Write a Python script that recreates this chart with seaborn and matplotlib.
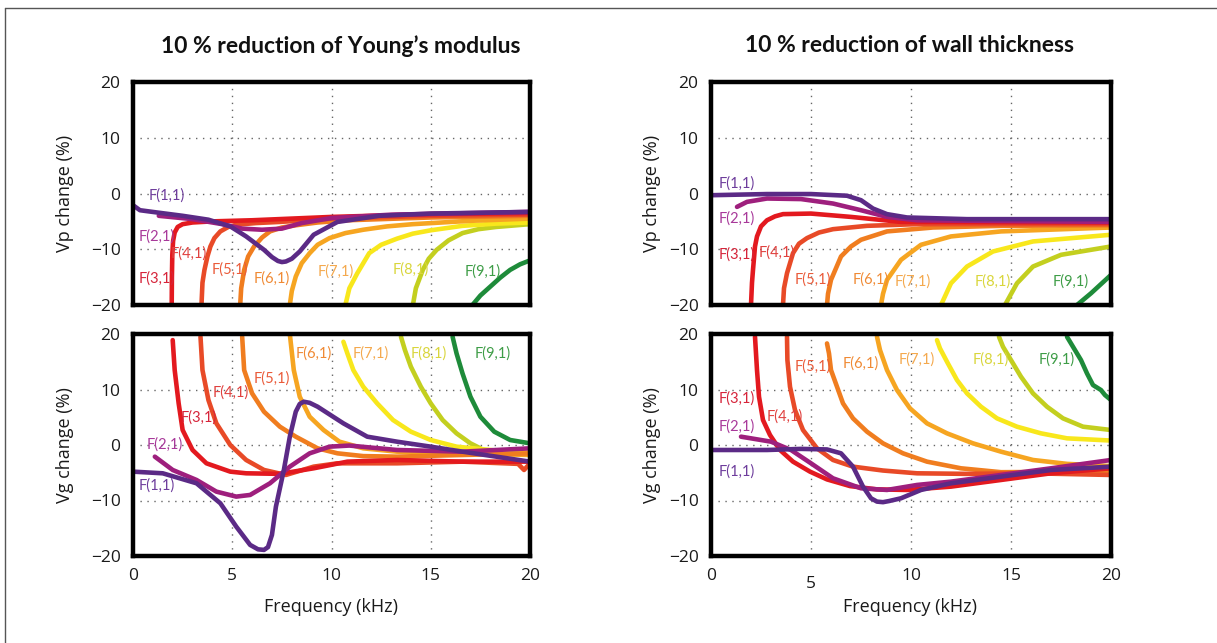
import matplotlib
matplotlib.use("Agg")
import matplotlib.pyplot as plt
import matplotlib.transforms as mtransforms
from matplotlib.lines import Line2D
import seaborn as sns

# ---------------- data ----------------
MODES = ["F(1,1)", "F(2,1)", "F(3,1)", "F(4,1)", "F(5,1)", "F(6,1)", "F(7,1)", "F(8,1)", "F(9,1)"]
FREQ_TICKS = [0, 5, 10, 15, 20]
CHANGE_TICKS = [-20, -10, 0, 10, 20]
TITLES = ["10 % reduction of Young\u2019s modulus", "10 % reduction of wall thickness"]
YLABELS = ["Vp change (%)", "Vg change (%)"]
XLABEL = "Frequency (kHz)"

# Young's modulus, phase velocity change
ym_vp_x1 = [0, 0.35, 1.2, 2.5, 3.8, 4.9, 5.7, 6.6, 7.0, 7.3, 7.5, 7.7, 8.0, 8.4, 9.1, 10.3, 12.4, 15, 20]
ym_vp_y1 = [-2.1, -3.0, -3.4, -4.0, -4.7, -5.9, -7.7, -10.1, -11.4, -12.1, -12.3, -12.2, -11.7, -10.4, -7.4, -5.1, -4.0, -3.6, -3.3]
ym_vp_x2 = [1.3, 3.0, 4.5, 5.5, 6.5, 7.5, 8.5, 10, 13, 20]
ym_vp_y2 = [-4.0, -4.6, -5.5, -6.3, -6.5, -6.3, -5.3, -4.4, -3.8, -3.3]
ym_vp_x3 = [1.95, 1.96, 1.98, 2.02, 2.1, 2.25, 2.5, 3.0, 4.0, 6.0, 10, 15, 20]
ym_vp_y3 = [-20, -15, -11, -8.5, -7.0, -6.0, -5.5, -5.2, -5.0, -4.8, -4.2, -3.7, -3.5]
ym_vp_x4 = [3.45, 3.5, 3.6, 3.75, 3.9, 4.1, 4.4, 4.8, 5.2, 6.2, 7.4, 10, 15, 20]
ym_vp_y4 = [-20, -16, -13.7, -11.3, -9.5, -8.0, -6.8, -6.0, -5.6, -5.3, -5.1, -4.5, -4.0, -3.8]
ym_vp_x5 = [5.4, 5.45, 5.6, 5.8, 6.1, 6.5, 6.9, 7.5, 8.2, 9.3, 10.8, 15, 20]
ym_vp_y5 = [-20, -17, -13.7, -11.3, -9.5, -7.9, -6.8, -6.1, -5.7, -5.2, -4.8, -4.3, -4.0]
ym_vp_x6 = [7.9, 8.0, 8.2, 8.5, 8.9, 9.3, 9.9, 10.7, 11.6, 12.8, 14.1, 17, 20]
ym_vp_y6 = [-20, -17.5, -14.9, -12.5, -10.7, -9.2, -8.0, -7.1, -6.5, -5.9, -5.5, -4.9, -4.5]
ym_vp_x7 = [10.7, 10.9, 11.3, 11.9, 12.5, 13.3, 14.1, 15, 16.6, 18.3, 20]
ym_vp_y7 = [-20, -17, -14.3, -10.7, -9.2, -8.1, -7.2, -6.6, -5.8, -5.4, -5.2]
ym_vp_x8 = [14.1, 14.25, 14.6, 14.9, 15.3, 15.9, 16.6, 17.4, 18.3, 20]
ym_vp_y8 = [-20, -17, -13.7, -11.7, -10.1, -8.4, -7.1, -6.4, -6.0, -5.5]
ym_vp_x9 = [17.1, 17.5, 18.0, 18.5, 19.0, 19.5, 20]
ym_vp_y9 = [-20, -18.3, -16.7, -15.1, -13.7, -12.7, -12.0]

# Young's modulus, group velocity change
ym_vg_x1 = [0, 1.5, 3.2, 4.4, 5.2, 5.9, 6.3, 6.6, 6.8, 7.0, 7.2, 7.6, 7.9, 8.2, 8.4, 8.6, 8.9, 9.3, 10.6, 11.8, 13.3, 15, 16.6, 18.3, 20]
ym_vg_y1 = [-4.8, -5.1, -6.9, -10.5, -14.7, -18.0, -18.8, -18.9, -18.4, -16.2, -11.1, -4.5, 1.5, 6.0, 7.4, 7.8, 7.6, 6.9, 3.9, 1.5, 0.6, -0.3, -1.2, -2.1, -3.0]
ym_vg_x2 = [1.1, 2.0, 3.2, 4.2, 5.2, 5.9, 6.9, 7.9, 8.9, 9.9, 10.9, 13.3, 16.6, 20]
ym_vg_y2 = [-2.1, -4.5, -6.3, -8.4, -9.3, -9.0, -6.9, -3.9, -1.5, -0.3, -0.1, -0.9, -1.2, -0.6]
ym_vg_x3 = [2.0, 2.1, 2.3, 2.5, 3.0, 3.7, 4.9, 5.7, 7.4, 9.1, 10.8, 13.3, 16.6, 20]
ym_vg_y3 = [18.9, 13.5, 7.5, 2.7, -0.9, -3.3, -4.8, -5.1, -5.2, -4.2, -3.0, -2.7, -3.0, -3.0]
ym_vg_x4 = [3.4, 3.5, 3.8, 4.2, 4.9, 5.7, 6.6, 7.7, 9.1, 10.3, 13.3, 16.6, 19.4, 19.7, 20]
ym_vg_y4 = [19.5, 13.5, 8.1, 3.9, 0.0, -2.7, -4.5, -5.4, -3.9, -3.3, -3.3, -3.0, -3.4, -4.5, -3.3]
ym_vg_x5 = [5.5, 5.6, 6.0, 6.6, 7.4, 8.2, 9.3, 10.3, 11.6, 13.3, 16.6, 20]
ym_vg_y5 = [19.5, 13.5, 9.3, 6.0, 3.3, 1.5, -0.6, -1.5, -2.0, -2.1, -1.8, -1.5]
ym_vg_x6 = [7.9, 8.1, 8.4, 8.9, 9.6, 10.4, 11.6, 13.3, 16.6, 20]
ym_vg_y6 = [20, 13.5, 8.7, 5.1, 2.7, 0.6, -0.6, -1.2, -1.5, -1.8]
ym_vg_x7 = [10.6, 10.8, 11.1, 11.6, 12.3, 13.1, 14.0, 15.0, 16.3, 18.3, 20]
ym_vg_y7 = [18.6, 16.5, 13.5, 10.5, 7.5, 4.5, 2.4, 0.9, -0.3, -1.0, -1.4]
ym_vg_x8 = [13.5, 13.7, 14.0, 14.5, 15.0, 15.6, 16.3, 17.0, 17.5, 17.6]
ym_vg_y8 = [19.5, 17.1, 14.1, 10.5, 7.5, 4.5, 2.1, 0.3, -0.6, -0.9]
ym_vg_x9 = [16.1, 16.3, 16.6, 17.0, 17.5, 18.2, 19.0, 20]
ym_vg_y9 = [19.5, 16.5, 12.9, 8.7, 5.1, 2.4, 0.9, 0.3]

# Wall thickness, phase velocity change
wt_vp_x1 = [0.1, 2.8, 5, 6.8, 7.5, 8.1, 8.8, 9.8, 12.8, 16.1, 20]
wt_vp_y1 = [-0.3, -0.1, -0.1, -0.4, -1.2, -2.7, -3.7, -4.3, -4.6, -4.6, -4.6]
wt_vp_x2 = [1.3, 1.8, 2.8, 4.5, 6.1, 7.5, 8.8, 10.3, 20]
wt_vp_y2 = [-2.4, -1.5, -0.9, -1.0, -1.8, -3.0, -4.2, -4.8, -5.1]
wt_vp_x3 = [2.0, 2.05, 2.1, 2.2, 2.3, 2.5, 2.8, 3.2, 3.6, 5, 7, 9.5, 20]
wt_vp_y3 = [-20, -16, -13.7, -9.5, -7.7, -5.9, -4.8, -4.1, -3.7, -3.6, -4.2, -5.1, -5.2]
wt_vp_x4 = [3.6, 3.65, 3.8, 4.1, 4.4, 4.8, 5.4, 6.1, 7.8, 10.3, 20]
wt_vp_y4 = [-20, -17, -14.3, -10.7, -9.0, -8.0, -7.0, -6.4, -5.8, -5.5, -5.5]
wt_vp_x5 = [5.8, 5.85, 6, 6.5, 7.0, 7.5, 8.8, 11.1, 14.5, 20]
wt_vp_y5 = [-20, -18, -15.5, -11.3, -9.5, -8.3, -6.8, -6.1, -5.8, -5.7]
wt_vp_x6 = [8.5, 8.6, 8.8, 9.5, 10.5, 12, 14.5, 20]
wt_vp_y6 = [-20, -18, -15.5, -11.9, -9.2, -7.7, -6.8, -6.1]
wt_vp_x7 = [11.5, 12, 12.8, 14.1, 16.1, 20]
wt_vp_y7 = [-20, -16.1, -13.1, -10.4, -8.6, -7.4]
wt_vp_x8 = [14.7, 15.3, 16.1, 17.5, 20]
wt_vp_y8 = [-20, -16.1, -13.1, -11.0, -9.5]
wt_vp_x9 = [18.3, 19, 20]
wt_vp_y9 = [-20, -17.9, -14.6]

# Wall thickness, group velocity change
wt_vg_x1 = [0.1, 2.8, 4.5, 5.8, 6.5, 7.1, 7.6, 8.0, 8.3, 8.6, 8.9, 9.5, 10.5, 12, 14.5, 17, 20]
wt_vg_y1 = [-0.9, -0.9, -0.7, -0.8, -1.5, -3.9, -7.5, -9.6, -10.2, -10.3, -10.1, -9.6, -8.1, -6.9, -5.7, -4.5, -3.9]
wt_vg_x2 = [1.5, 2, 3, 4, 5, 6.1, 7.5, 8.8, 10.3, 12, 14.5, 17, 20]
wt_vg_y2 = [1.5, 1.2, 0.6, -0.9, -3.3, -6.0, -7.8, -8.1, -7.2, -6.6, -5.4, -4.2, -2.7]
wt_vg_x3 = [2.2, 2.3, 2.4, 2.6, 2.95, 3.45, 4.1, 4.95, 5.8, 6.95, 8.3, 9.8, 12, 14.5, 17, 20]
wt_vg_y3 = [19.5, 13.5, 8.7, 4.5, 1.8, -0.9, -3.0, -4.8, -6.2, -7.4, -8.0, -8.1, -7.5, -6.3, -5.1, -4.2]
wt_vg_x4 = [3.8, 3.82, 3.95, 4.2, 4.6, 5.3, 6.1, 7.1, 8.6, 10.3, 12.8, 16.1, 20]
wt_vg_y4 = [19.5, 15.3, 10.5, 6.3, 2.7, -0.6, -2.7, -3.9, -4.6, -5.1, -5.2, -5.1, -5.4]
wt_vg_x5 = [5.8, 5.9, 6.0, 6.3, 6.6, 7.1, 7.8, 8.6, 9.6, 10.8, 12.5, 14.5, 20]
wt_vg_y5 = [18.3, 16.5, 13.5, 10.5, 7.5, 4.8, 2.4, 0.3, -1.5, -3.0, -4.2, -4.9, -4.8]
wt_vg_x6 = [8.3, 8.45, 8.8, 9.3, 9.95, 10.8, 11.8, 13.1, 14.5, 16.1, 17.8, 20]
wt_vg_y6 = [19.5, 17.1, 13.5, 9.9, 6.6, 3.9, 2.1, 0.3, -1.2, -2.7, -3.4, -3.8]
wt_vg_x7 = [11.3, 11.45, 11.8, 12.3, 12.8, 13.5, 14.3, 15.3, 16.5, 17.8, 20]
wt_vg_y7 = [18.9, 17.4, 15.0, 11.7, 9.3, 6.9, 4.8, 3.3, 2.1, 1.2, 0.8]
wt_vg_x8 = [14.4, 14.6, 15.0, 15.5, 16.1, 16.8, 17.6, 18.6, 20]
wt_vg_y8 = [19.5, 17.7, 15.3, 12.3, 9.3, 6.9, 4.8, 3.3, 2.7]
wt_vg_x9 = [17.8, 18.1, 18.5, 18.8, 19.1, 19.5, 19.7, 20]
wt_vg_y9 = [19.5, 17.7, 15.3, 12.9, 10.8, 9.9, 9.0, 8.1]

# mode-label anchor points (data coordinates), order F(1,1)..F(9,1)
ym_vp_lx = [1.7, 1.2, 1.2, 2.8, 4.9, 7.0, 10.2, 14.0, 17.6]
ym_vp_ly = [-0.3, -7.7, -15.2, -10.7, -13.7, -15.2, -14.0, -13.7, -14.0]
ym_vg_lx = [1.2, 1.6, 3.3, 4.9, 7.0, 9.1, 12.0, 14.9, 18.1]
ym_vg_ly = [-7.3, 0.0, 5.0, 9.4, 12.0, 16.4, 16.4, 16.4, 16.4]
wt_vp_lx = [1.3, 1.3, 1.3, 3.3, 5.1, 8.0, 10.1, 14.1, 18.0]
wt_vp_ly = [1.8, -4.5, -10.9, -10.6, -15.5, -15.4, -15.8, -15.8, -15.8]
wt_vg_lx = [1.3, 1.3, 1.3, 3.7, 5.1, 7.5, 10.3, 14.0, 17.3]
wt_vg_ly = [-4.8, 3.3, 8.4, 5.1, 14.1, 14.7, 15.4, 15.4, 15.4]

# ---------------- style ----------------
CURVE_COLORS = ["#5b2a86", "#9e1f7d", "#e3191f", "#e84a27", "#f07d1f",
                "#f6a521", "#f8e71c", "#c3cf1f", "#1e8b3a"]
LABEL_COLORS = ["#6e3d9c", "#a8399a", "#d6243a", "#e0413f", "#ea5b3a",
                "#f08a34", "#f4a94e", "#d9d63c", "#3e9d47"]

sns.set_theme(style="white")
plt.rcParams["font.family"] = ["Open Sans", "DejaVu Sans"]

W, H = 1217, 643
fig = plt.figure(figsize=(W / 100, H / 100), dpi=100)


def ax_at(x0, y0, x1, y1):
    return fig.add_axes([x0 / W, 1 - y1 / H, (x1 - x0) / W, (y1 - y0) / H])


panels = [
    (ax_at(133, 82, 530, 305),
     [(ym_vp_x1, ym_vp_y1), (ym_vp_x2, ym_vp_y2), (ym_vp_x3, ym_vp_y3), (ym_vp_x4, ym_vp_y4),
      (ym_vp_x5, ym_vp_y5), (ym_vp_x6, ym_vp_y6), (ym_vp_x7, ym_vp_y7), (ym_vp_x8, ym_vp_y8),
      (ym_vp_x9, ym_vp_y9)], ym_vp_lx, ym_vp_ly, False),
    (ax_at(133, 334, 530, 556),
     [(ym_vg_x1, ym_vg_y1), (ym_vg_x2, ym_vg_y2), (ym_vg_x3, ym_vg_y3), (ym_vg_x4, ym_vg_y4),
      (ym_vg_x5, ym_vg_y5), (ym_vg_x6, ym_vg_y6), (ym_vg_x7, ym_vg_y7), (ym_vg_x8, ym_vg_y8),
      (ym_vg_x9, ym_vg_y9)], ym_vg_lx, ym_vg_ly, True),
    (ax_at(711, 82, 1111, 305),
     [(wt_vp_x1, wt_vp_y1), (wt_vp_x2, wt_vp_y2), (wt_vp_x3, wt_vp_y3), (wt_vp_x4, wt_vp_y4),
      (wt_vp_x5, wt_vp_y5), (wt_vp_x6, wt_vp_y6), (wt_vp_x7, wt_vp_y7), (wt_vp_x8, wt_vp_y8),
      (wt_vp_x9, wt_vp_y9)], wt_vp_lx, wt_vp_ly, False),
    (ax_at(711, 334, 1111, 556),
     [(wt_vg_x1, wt_vg_y1), (wt_vg_x2, wt_vg_y2), (wt_vg_x3, wt_vg_y3), (wt_vg_x4, wt_vg_y4),
      (wt_vg_x5, wt_vg_y5), (wt_vg_x6, wt_vg_y6), (wt_vg_x7, wt_vg_y7), (wt_vg_x8, wt_vg_y8),
      (wt_vg_x9, wt_vg_y9)], wt_vg_lx, wt_vg_ly, True),
]

LABEL_FONT = ["Lato", "DejaVu Sans"]

for ax, series, lx, ly, show_x in panels:
    # draw from highest mode to lowest so F(1,1) ends on top
    for i in range(8, -1, -1):
        xs, ys = series[i]
        sns.lineplot(x=xs, y=ys, ax=ax, color=CURVE_COLORS[i], lw=3.3,
                     sort=False, estimator=None, solid_capstyle="round",
                     solid_joinstyle="round", zorder=3 + (8 - i) * 0.01)
    for i in range(9):
        ax.text(lx[i], ly[i], MODES[i], color=LABEL_COLORS[i], fontsize=10.5,
                family=LABEL_FONT, ha="center", va="center", zorder=5)
    ax.set_xlim(0, 20)
    ax.set_ylim(-20, 20)
    ax.set_xticks(FREQ_TICKS)
    ax.set_yticks(CHANGE_TICKS)
    ax.set_yticklabels(["\u221220", "\u221210", "0", "10", "20"])
    if show_x:
        ax.set_xticklabels([str(t) for t in FREQ_TICKS])
    else:
        ax.set_xticklabels([])
    ax.set_xlabel("")
    ax.set_ylabel("")
    ax.tick_params(length=0, labelsize=12.5, pad=9, colors="#1a1a1a")
    ax.grid(True, linestyle=(0, (1, 4)), color="#666666", lw=1.0)
    for sp in ax.spines.values():
        sp.set_visible(True)
        sp.set_color("black")
        sp.set_linewidth(3.2)
        sp.set_zorder(6)

# lowered "5" tick label in bottom-right panel (as in the reference)
ax_br = panels[3][0]
lab5 = ax_br.get_xticklabels()[1]
lab5.set_transform(lab5.get_transform() +
                   mtransforms.ScaledTranslation(0, -8 / 100, fig.dpi_scale_trans))

# titles
TITLE_FONT = ["Lato", "DejaVu Sans"]
fig.text(341 / W, 1 - 46 / H, TITLES[0], ha="center", va="center",
         fontsize=16.5, fontweight="bold", family=TITLE_FONT, color="#111111")
fig.text(910 / W, 1 - 46 / H, TITLES[1], ha="center", va="center",
         fontsize=16.5, fontweight="bold", family=TITLE_FONT, color="#111111")

# y labels
for xc in (65, 652):
    fig.text(xc / W, 1 - 193 / H, YLABELS[0], rotation=90, ha="center", va="center",
             fontsize=13, color="#1a1a1a")
    fig.text(xc / W, 1 - 445 / H, YLABELS[1], rotation=90, ha="center", va="center",
             fontsize=13, color="#1a1a1a")

# x labels
for xc in (331, 910):
    fig.text(xc / W, 1 - 607 / H, XLABEL, ha="center", va="center",
             fontsize=13, color="#1a1a1a")

# partial figure frame (top and left edges)
fig.add_artist(Line2D([5 / W, 1.0], [1 - 8 / H, 1 - 8 / H], transform=fig.transFigure,
                      color="#555555", lw=1.0))
fig.add_artist(Line2D([5 / W, 5 / W], [0.0, 1 - 8 / H], transform=fig.transFigure,
                      color="#555555", lw=1.0))

fig.savefig("out.png", dpi=100)
